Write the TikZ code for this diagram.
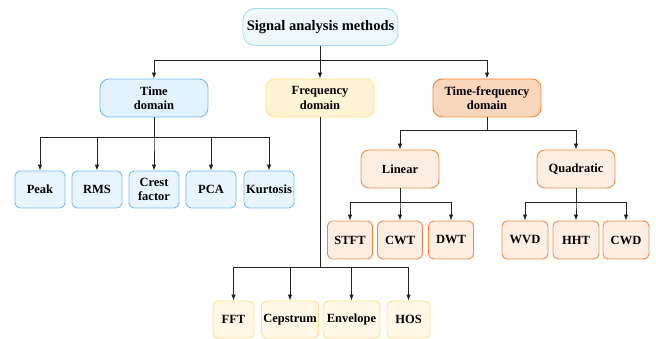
\documentclass[tikz,border=0pt]{standalone}
\usepackage{fontspec}
\setmainfont{Liberation Serif}[BoldFont={Liberation Serif Bold}]
\newfontfamily\labfont{Liberation Serif Bold}
\usetikzlibrary{arrows.meta}
\definecolor{tbord}{HTML}{A9DDEC}
\definecolor{tfill}{HTML}{EEF8FC}
\definecolor{bbord}{HTML}{74BCF1}
\definecolor{bfill}{HTML}{E3F1FD}
\definecolor{blfill}{HTML}{E8F4FE}
\definecolor{ybord}{HTML}{FFDF88}
\definecolor{yfill}{HTML}{FFF4D3}
\definecolor{ylfill}{HTML}{FFF8E6}
\definecolor{obord}{HTML}{EE8A40}
\definecolor{ofill}{HTML}{F9D6BC}
\definecolor{olfill}{HTML}{FDEEE3}
\definecolor{ink}{HTML}{222222}
\begin{document}
\begin{tikzpicture}[x=1pt,y=-1pt,
  box/.style={draw, line width=0.9pt, align=center, inner sep=0pt,
    font=\labfont\fontsize{12.5}{14.5}\selectfont},
  titlebox/.style={box, draw=tbord, fill=tfill, rounded corners=12pt,
    minimum width=155pt, minimum height=37pt, font=\labfont\fontsize{14.5}{16}\selectfont},
  catA/.style={box, rounded corners=9pt, minimum width=108pt, minimum height=38pt},
  subA/.style={box, rounded corners=8pt, minimum width=78pt, minimum height=38pt},
  leaf/.style={box, rounded corners=5pt, minimum height=37pt},
  blue/.style={draw=bbord, fill=bfill},
  bluel/.style={draw=bbord, fill=blfill},
  yel/.style={draw=ybord, fill=yfill},
  yell/.style={draw=ybord, fill=ylfill},
  ora/.style={draw=obord, fill=ofill},
  oral/.style={draw=obord, fill=olfill},
  arr/.style={draw=ink, line width=0.8pt, -{Latex[length=6pt,width=4.5pt]}}
]
\useasboundingbox (0,0) rectangle (656,339);

\node[titlebox] (root) at (320.5,27) {Signal analysis methods};

\node[catA, blue] (td) at (154,98) {Time\\domain};
\node[catA, yel]  (fd) at (320,98) {Frequency\\domain};
\node[catA, ora]  (tf) at (487,98) {Time-frequency\\domain};

\node[leaf, bluel, minimum width=50pt] (peak) at (40,189.5) {Peak};
\node[leaf, bluel, minimum width=50pt] (rms) at (97,189.5) {RMS};
\node[leaf, bluel, minimum width=50pt] (crest) at (154,189.5) {Crest\\factor};
\node[leaf, bluel, minimum width=50pt] (pca) at (211,189.5) {PCA};
\node[leaf, bluel, minimum width=50pt] (kurt) at (269,189.5) {Kurtosis};

\node[subA, oral] (lin) at (400,169) {Linear};
\node[subA, oral] (quad) at (576,169) {Quadratic};

\node[leaf, oral, minimum width=45pt, minimum height=38pt] (stft) at (350,240) {STFT};
\node[leaf, oral, minimum width=45pt, minimum height=38pt] (cwt) at (400,240) {CWT};
\node[leaf, oral, minimum width=45pt, minimum height=38pt] (dwt) at (451,240) {DWT};
\node[leaf, oral, minimum width=46pt, minimum height=38pt] (wvd) at (525,240) {WVD};
\node[leaf, oral, minimum width=46pt, minimum height=38pt] (hht) at (576,240) {HHT};
\node[leaf, oral, minimum width=46pt, minimum height=38pt] (cwd) at (626,240) {CWD};

\node[leaf, yell, minimum width=41pt] (fft) at (233.5,319.5) {FFT};
\node[leaf, yell, minimum width=57pt] (ceps) at (290,319.5) {Cepstrum};
\node[leaf, yell, minimum width=57pt] (env) at (351.5,319.5) {Envelope};
\node[leaf, yell, minimum width=43pt] (hos) at (408.5,319.5) {HOS};

% root
\foreach \c in {td,fd,tf}
  \draw[arr] (root.south) -- ++(0,14) -| (\c.north);
% time domain
\foreach \c in {peak,rms,crest,pca,kurt}
  \draw[arr] (td.south) -- ++(0,20) -| (\c.north);
% frequency domain
\foreach \c in {fft,ceps,env,hos}
  \draw[arr] (fd.south) -- ++(0,150) -| (\c.north);
% time-frequency
\foreach \c in {lin,quad}
  \draw[arr] (tf.south) -- ++(0,13) -| (\c.north);
\foreach \c in {stft,cwt,dwt}
  \draw[arr] (lin.south) -- ++(0,14) -| (\c.north);
\foreach \c in {wvd,hht,cwd}
  \draw[arr] (quad.south) -- ++(0,14) -| (\c.north);
\end{tikzpicture}
\end{document}
